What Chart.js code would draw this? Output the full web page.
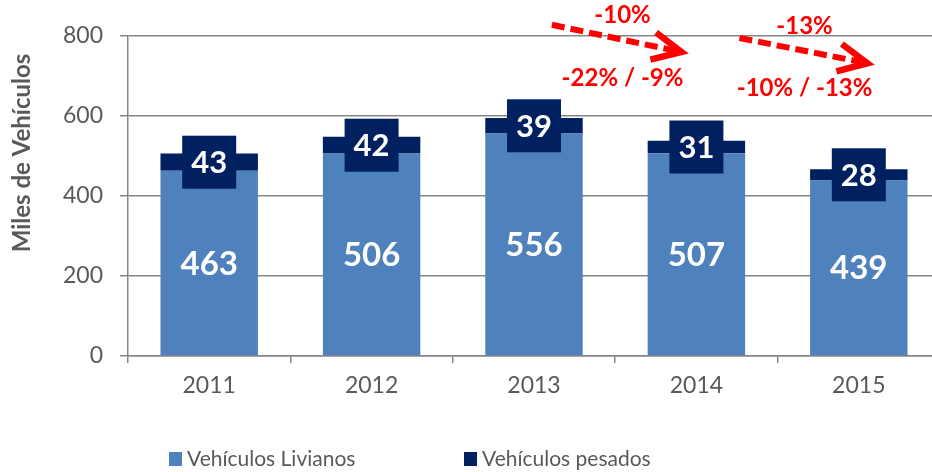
<!DOCTYPE html>
<html><head><meta charset="utf-8">
<script src="https://cdn.jsdelivr.net/npm/chart.js@4.4.1/dist/chart.umd.min.js"></script>
<style>html,body{margin:0;padding:0;overflow:hidden;background:#fff;width:932px;height:472px}#wrap{width:942px;height:472px}</style>
</head><body><div id="wrap"><canvas id="c" width="942" height="472"></canvas></div>
<script>
const categories = ['2011', '2012', '2013', '2014', '2015'];
const livianos = [463, 506, 556, 507, 439];
const pesados = [43, 42, 39, 31, 28];
const yTicks = [0, 200, 400, 600, 800];
const seriesNames = ['Vehículos Livianos', 'Vehículos pesados'];
const axisTitle = 'Miles de Vehículos';
const changeTop = ['-10%', '-13%'];
const changeBottom = ['-22% / -9%', '-10% / -13%'];

const GRID = '#868686', TEXT = '#595959', LIGHT = '#4F81BD', DARK = '#002060', RED = '#FF0000';
const FONT = 'Lato';

const valueLabels = {
  id: 'valueLabels',
  afterDatasetsDraw(chart) {
    const ctx = chart.ctx;
    ctx.save();
    ctx.textAlign = 'center'; ctx.textBaseline = 'middle';
    chart.getDatasetMeta(0).data.forEach((bar, i) => {
      const y = (bar.y + bar.base) / 2;
      ctx.fillStyle = '#fff'; ctx.font = 'bold 33px ' + FONT;
      ctx.fillText(String(livianos[i]), bar.x, y + 1);
    });
    chart.getDatasetMeta(1).data.forEach((bar, i) => {
      const y = (bar.y + bar.base) / 2;
      ctx.fillStyle = DARK; ctx.fillRect(bar.x - 27, y - 26.5, 54, 53);
      ctx.fillStyle = '#fff'; ctx.font = 'bold 31px ' + FONT;
      ctx.fillText(String(pesados[i]), bar.x, y + 1);
    });
    ctx.restore();
  }
};

const extras = {
  id: 'extras',
  afterDraw(chart) {
    const ctx = chart.ctx, xs = chart.scales.x, ys = chart.scales.y;
    ctx.save();
    ctx.translate(22, 153); ctx.rotate(-Math.PI / 2);
    ctx.fillStyle = TEXT; ctx.font = 'bold 24px ' + FONT;
    ctx.textAlign = 'center'; ctx.textBaseline = 'middle';
    ctx.fillText(axisTitle, 0, 0);
    ctx.restore();

    const arrows = [
      {from: [2.11, 828], to: [2.908, 760], top: [2.545, 852], bot: [2.545, 695]},
      {from: [3.265, 795], to: [4.053, 732], top: [3.666, 825], bot: [3.666, 670]}
    ];
    arrows.forEach((a, k) => {
      const x1 = xs.getPixelForValue(a.from[0]), y1 = ys.getPixelForValue(a.from[1]);
      const x2 = xs.getPixelForValue(a.to[0]), y2 = ys.getPixelForValue(a.to[1]);
      ctx.save();
      ctx.strokeStyle = RED; ctx.lineWidth = 6; ctx.lineCap = 'butt';
      ctx.setLineDash([13, 6]);
      ctx.beginPath(); ctx.moveTo(x1, y1); ctx.lineTo(x2 - 5, y2 - 1); ctx.stroke();
      ctx.setLineDash([]);
      const ang = Math.atan2(y2 - y1, x2 - x1) + Math.PI;
      const L = 32;
      ctx.lineWidth = 6.5; ctx.lineJoin = 'miter';
      ctx.beginPath();
      ctx.moveTo(x2 + L * Math.cos(ang + 0.45), y2 + L * Math.sin(ang + 0.45));
      ctx.lineTo(x2, y2);
      ctx.lineTo(x2 + L * Math.cos(ang - 0.45), y2 + L * Math.sin(ang - 0.45));
      ctx.stroke();
      ctx.fillStyle = RED; ctx.font = 'bold 24px ' + FONT;
      ctx.textAlign = 'center'; ctx.textBaseline = 'middle';
      ctx.fillText(changeTop[k], xs.getPixelForValue(a.top[0]), ys.getPixelForValue(a.top[1]));
      ctx.fillText(changeBottom[k], xs.getPixelForValue(a.bot[0]), ys.getPixelForValue(a.bot[1]));
      ctx.restore();
    });

    ctx.save();
    ctx.font = '21px ' + FONT; ctx.textBaseline = 'middle'; ctx.textAlign = 'left';
    const colors = [LIGHT, DARK];
    const starts = [169, 464];
    seriesNames.forEach((n, i) => {
      ctx.fillStyle = colors[i];
      ctx.fillRect(starts[i], 452, 13, 14);
      ctx.fillStyle = TEXT;
      ctx.fillText(n, starts[i] + 18, 459);
    });
    ctx.restore();
  }
};

new Chart(document.getElementById('c'), {
  type: 'bar',
  data: {
    labels: categories,
    datasets: [
      {label: seriesNames[0], data: livianos, backgroundColor: LIGHT, borderWidth: 0, barPercentage: 0.6, categoryPercentage: 1.0},
      {label: seriesNames[1], data: pesados, backgroundColor: DARK, borderWidth: 0, barPercentage: 0.6, categoryPercentage: 1.0}
    ]
  },
  options: {
    responsive: false, animation: false, devicePixelRatio: 1,
    layout: {padding: {top: 36, bottom: 72, left: 0, right: 2}},
    plugins: {legend: {display: false}, tooltip: {enabled: false}},
    scales: {
      x: {
        stacked: true,
        grid: {display: true, drawOnChartArea: false, drawTicks: true, tickLength: 7, color: GRID, lineWidth: 1.5, offset: true},
        border: {display: true, color: GRID, width: 1.5},
        ticks: {color: TEXT, font: {family: FONT, size: 23}, padding: 9, maxRotation: 0},
        afterFit(s) { s.height = 44; }
      },
      y: {
        stacked: true, min: 0, max: 800,
        afterBuildTicks(s) { s.ticks = yTicks.map(v => ({value: v})); },
        ticks: {color: TEXT, font: {family: FONT, size: 23}, padding: 17},
        grid: {color: GRID, lineWidth: 1.5, tickLength: 8, drawTicks: true},
        border: {display: true, color: GRID, width: 1.5},
        afterFit(s) { s.width = 128; }
      }
    }
  },
  plugins: [valueLabels, extras]
});
</script>
</body></html>
